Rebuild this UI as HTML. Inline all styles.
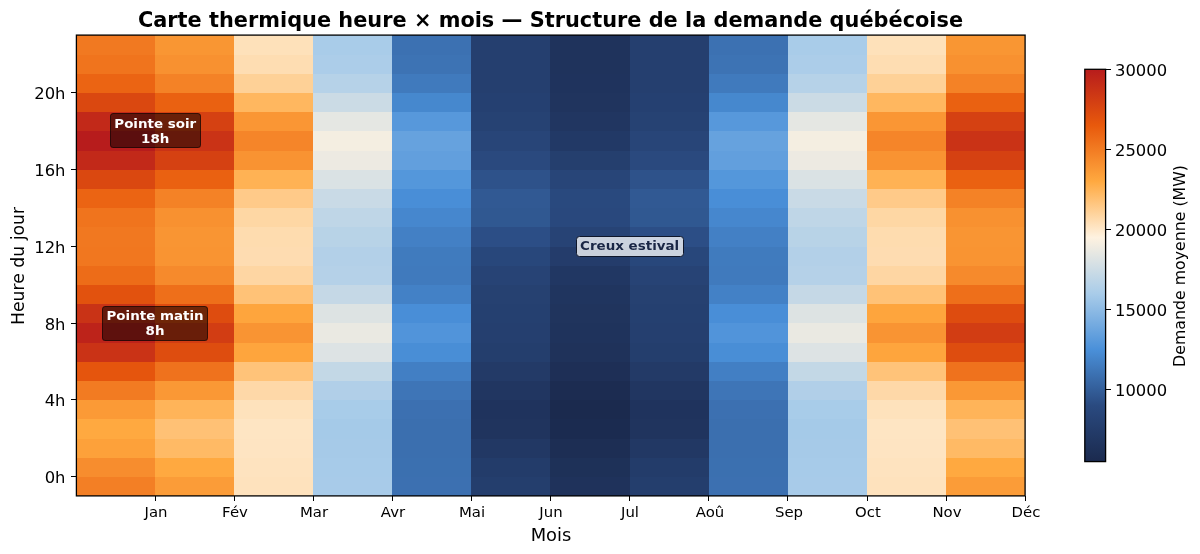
<!DOCTYPE html>
<html lang="fr"><head><meta charset="utf-8"><title>Carte thermique heure × mois</title>
<style>
html,body{margin:0;padding:0;background:#fff;}
body{width:1200px;height:554px;position:relative;overflow:hidden;font-family:"DejaVu Sans","Liberation Sans",sans-serif;color:#000;}
.abs{position:absolute}
#title{position:absolute;left:0;width:1101px;top:7.9px;text-align:center;font-weight:bold;font-size:20.6px;line-height:24px;white-space:nowrap;transform:scaleX(1.013);transform-origin:50% 50%}
svg{position:absolute;left:0;top:0}
.xt{position:absolute;top:502.8px;width:80px;margin-left:-40px;text-align:center;font-size:14.25px;line-height:18px;transform:scaleX(1.046);transform-origin:50% 50%}
.xtk{position:absolute;top:495.9px;width:1px;height:5px;background:#000}
.yt{position:absolute;left:0;width:65.5px;text-align:right;font-size:15.68px;line-height:18px;margin-top:-7.6px;transform:scaleX(1.046);transform-origin:100% 50%}
.ytk{position:absolute;left:71.4px;width:5px;height:1px;background:#000}
.ct{position:absolute;left:1115.1px;font-size:15.68px;line-height:18px;margin-top:-7.6px;transform:scaleX(1.046);transform-origin:0 50%}
.ctk{position:absolute;left:1105.6px;width:5px;height:1px;background:#000}
#xl{position:absolute;left:450.8px;width:200px;text-align:center;top:523.5px;font-size:17.1px;line-height:22px;transform:scaleX(1.046);transform-origin:50% 50%}
#yl{position:absolute;left:17.8px;top:266.0px;width:0;height:0}
#yl span{position:absolute;white-space:nowrap;font-size:17.88px;line-height:22px;transform:translate(-50%,-50%) rotate(-90deg) scaleX(0.965);display:block}
#cl{position:absolute;left:1180.2px;top:266.1px;width:0;height:0}
#cl span{position:absolute;white-space:nowrap;font-size:16.39px;line-height:20px;transform:translate(-50%,-50%) rotate(-90deg) scaleX(0.963);display:block}
.ann{position:absolute;box-sizing:border-box;text-align:center;font-weight:bold;font-size:12.83px;border-radius:3.5px;white-space:nowrap}
.ann span{display:block;position:absolute;left:0;right:0;line-height:15px;transform:scaleX(1.047);transform-origin:50% 50%}
.red{background:rgba(0,0,0,0.5);border:1.3px solid rgba(0,0,0,0.5);color:#fff;line-height:14.6px;padding-top:2.5px}
.blu{background:rgba(255,255,255,0.76);border:1.8px solid #0f172b;color:#1a2645;line-height:18.3px}
</style></head><body>
<div id="title">Carte thermique heure × mois — Structure de la demande québécoise</div>
<svg width="1200" height="554" viewBox="0 0 1200 554">
<defs><linearGradient id="cb" x1="0" y1="0" x2="0" y2="1"><stop offset="0.0000" stop-color="#b71c1c"/><stop offset="0.1429" stop-color="#e8590c"/><stop offset="0.2857" stop-color="#ffa940"/><stop offset="0.4286" stop-color="#fef2e0"/><stop offset="0.5714" stop-color="#a9cce9"/><stop offset="0.7143" stop-color="#4a90d9"/><stop offset="0.8571" stop-color="#2a4a80"/><stop offset="1.0000" stop-color="#1b2a4e"/></linearGradient></defs>
<g shape-rendering="crispEdges"><rect x="76.10" y="476.40" width="79.66" height="19.80" fill="#f37f25"/><rect x="76.10" y="457.20" width="79.66" height="19.80" fill="#f78d2e"/><rect x="76.10" y="438.00" width="79.66" height="19.80" fill="#fda13a"/><rect x="76.10" y="418.80" width="79.66" height="19.80" fill="#ffa940"/><rect x="76.10" y="399.60" width="79.66" height="19.80" fill="#fb9a36"/><rect x="76.10" y="380.40" width="79.66" height="19.80" fill="#f27b22"/><rect x="76.10" y="361.20" width="79.66" height="19.80" fill="#e5550d"/><rect x="76.10" y="342.00" width="79.66" height="19.80" fill="#ca3316"/><rect x="76.10" y="322.80" width="79.66" height="19.80" fill="#bd231a"/><rect x="76.10" y="303.60" width="79.66" height="19.80" fill="#c93316"/><rect x="76.10" y="284.40" width="79.66" height="19.80" fill="#e2520e"/><rect x="76.10" y="265.20" width="79.66" height="19.80" fill="#ed6c18"/><rect x="76.10" y="246.00" width="79.66" height="19.80" fill="#f1771f"/><rect x="76.10" y="226.80" width="79.66" height="19.80" fill="#f17820"/><rect x="76.10" y="207.60" width="79.66" height="19.80" fill="#f0741d"/><rect x="76.10" y="188.40" width="79.66" height="19.80" fill="#eb6413"/><rect x="76.10" y="169.20" width="79.66" height="19.80" fill="#da4810"/><rect x="76.10" y="150.00" width="79.66" height="19.80" fill="#c22919"/><rect x="76.10" y="130.80" width="79.66" height="19.80" fill="#b71c1c"/><rect x="76.10" y="111.60" width="79.66" height="19.80" fill="#c22919"/><rect x="76.10" y="92.40" width="79.66" height="19.80" fill="#da4810"/><rect x="76.10" y="73.20" width="79.66" height="19.80" fill="#eb6413"/><rect x="76.10" y="54.00" width="79.66" height="19.80" fill="#f0741d"/><rect x="76.10" y="34.80" width="79.66" height="19.80" fill="#f17921"/><rect x="155.16" y="476.40" width="79.66" height="19.80" fill="#fb9c38"/><rect x="155.16" y="457.20" width="79.66" height="19.80" fill="#ffa940"/><rect x="155.16" y="438.00" width="79.66" height="19.80" fill="#ffba65"/><rect x="155.16" y="418.80" width="79.66" height="19.80" fill="#ffc175"/><rect x="155.16" y="399.60" width="79.66" height="19.80" fill="#ffb459"/><rect x="155.16" y="380.40" width="79.66" height="19.80" fill="#fa9835"/><rect x="155.16" y="361.20" width="79.66" height="19.80" fill="#ef721d"/><rect x="155.16" y="342.00" width="79.66" height="19.80" fill="#de4d0f"/><rect x="155.16" y="322.80" width="79.66" height="19.80" fill="#d23d13"/><rect x="155.16" y="303.60" width="79.66" height="19.80" fill="#de4c0f"/><rect x="155.16" y="284.40" width="79.66" height="19.80" fill="#ee6f1a"/><rect x="155.16" y="265.20" width="79.66" height="19.80" fill="#f68a2c"/><rect x="155.16" y="246.00" width="79.66" height="19.80" fill="#f99432"/><rect x="155.16" y="226.80" width="79.66" height="19.80" fill="#f99533"/><rect x="155.16" y="207.60" width="79.66" height="19.80" fill="#f89130"/><rect x="155.16" y="188.40" width="79.66" height="19.80" fill="#f48226"/><rect x="155.16" y="169.20" width="79.66" height="19.80" fill="#ea6111"/><rect x="155.16" y="150.00" width="79.66" height="19.80" fill="#d54112"/><rect x="155.16" y="130.80" width="79.66" height="19.80" fill="#ca3316"/><rect x="155.16" y="111.60" width="79.66" height="19.80" fill="#d54112"/><rect x="155.16" y="92.40" width="79.66" height="19.80" fill="#ea6111"/><rect x="155.16" y="73.20" width="79.66" height="19.80" fill="#f48226"/><rect x="155.16" y="54.00" width="79.66" height="19.80" fill="#f89130"/><rect x="155.16" y="34.80" width="79.66" height="19.80" fill="#f99633"/><rect x="234.22" y="476.40" width="79.66" height="19.80" fill="#fee2bd"/><rect x="234.22" y="457.20" width="79.66" height="19.80" fill="#fee3bf"/><rect x="234.22" y="438.00" width="79.66" height="19.80" fill="#fee4c2"/><rect x="234.22" y="418.80" width="79.66" height="19.80" fill="#fee5c3"/><rect x="234.22" y="399.60" width="79.66" height="19.80" fill="#fee2bc"/><rect x="234.22" y="380.40" width="79.66" height="19.80" fill="#fed8a8"/><rect x="234.22" y="361.20" width="79.66" height="19.80" fill="#ffc379"/><rect x="234.22" y="342.00" width="79.66" height="19.80" fill="#fea53d"/><rect x="234.22" y="322.80" width="79.66" height="19.80" fill="#f99433"/><rect x="234.22" y="303.60" width="79.66" height="19.80" fill="#fea53d"/><rect x="234.22" y="284.40" width="79.66" height="19.80" fill="#ffc277"/><rect x="234.22" y="265.20" width="79.66" height="19.80" fill="#fed6a3"/><rect x="234.22" y="246.00" width="79.66" height="19.80" fill="#fedcb1"/><rect x="234.22" y="226.80" width="79.66" height="19.80" fill="#fedcaf"/><rect x="234.22" y="207.60" width="79.66" height="19.80" fill="#fed7a4"/><rect x="234.22" y="188.40" width="79.66" height="19.80" fill="#ffca89"/><rect x="234.22" y="169.20" width="79.66" height="19.80" fill="#ffb254"/><rect x="234.22" y="150.00" width="79.66" height="19.80" fill="#f99332"/><rect x="234.22" y="130.80" width="79.66" height="19.80" fill="#f58529"/><rect x="234.22" y="111.60" width="79.66" height="19.80" fill="#fa9634"/><rect x="234.22" y="92.40" width="79.66" height="19.80" fill="#ffb75f"/><rect x="234.22" y="73.20" width="79.66" height="19.80" fill="#fed197"/><rect x="234.22" y="54.00" width="79.66" height="19.80" fill="#feddb2"/><rect x="234.22" y="34.80" width="79.66" height="19.80" fill="#fee1ba"/><rect x="313.27" y="476.40" width="79.66" height="19.80" fill="#a8cbe9"/><rect x="313.27" y="457.20" width="79.66" height="19.80" fill="#a7cbe9"/><rect x="313.27" y="438.00" width="79.66" height="19.80" fill="#a6cae8"/><rect x="313.27" y="418.80" width="79.66" height="19.80" fill="#a5cae8"/><rect x="313.27" y="399.60" width="79.66" height="19.80" fill="#a8cce9"/><rect x="313.27" y="380.40" width="79.66" height="19.80" fill="#b1cfe8"/><rect x="313.27" y="361.20" width="79.66" height="19.80" fill="#c3d8e6"/><rect x="313.27" y="342.00" width="79.66" height="19.80" fill="#dde3e4"/><rect x="313.27" y="322.80" width="79.66" height="19.80" fill="#eae9e2"/><rect x="313.27" y="303.60" width="79.66" height="19.80" fill="#dde3e3"/><rect x="313.27" y="284.40" width="79.66" height="19.80" fill="#c5d8e6"/><rect x="313.27" y="265.20" width="79.66" height="19.80" fill="#b5d1e8"/><rect x="313.27" y="246.00" width="79.66" height="19.80" fill="#b3d0e8"/><rect x="313.27" y="226.80" width="79.66" height="19.80" fill="#b8d3e7"/><rect x="313.27" y="207.60" width="79.66" height="19.80" fill="#bfd6e7"/><rect x="313.27" y="188.40" width="79.66" height="19.80" fill="#c9dae6"/><rect x="313.27" y="169.20" width="79.66" height="19.80" fill="#dae2e4"/><rect x="313.27" y="150.00" width="79.66" height="19.80" fill="#edeae2"/><rect x="313.27" y="130.80" width="79.66" height="19.80" fill="#f4eee1"/><rect x="313.27" y="111.60" width="79.66" height="19.80" fill="#e5e7e3"/><rect x="313.27" y="92.40" width="79.66" height="19.80" fill="#cbdbe5"/><rect x="313.27" y="73.20" width="79.66" height="19.80" fill="#b6d2e8"/><rect x="313.27" y="54.00" width="79.66" height="19.80" fill="#accde9"/><rect x="313.27" y="34.80" width="79.66" height="19.80" fill="#a9cce9"/><rect x="392.33" y="476.40" width="79.66" height="19.80" fill="#3c70b1"/><rect x="392.33" y="457.20" width="79.66" height="19.80" fill="#3b70b0"/><rect x="392.33" y="438.00" width="79.66" height="19.80" fill="#3b6faf"/><rect x="392.33" y="418.80" width="79.66" height="19.80" fill="#3b6faf"/><rect x="392.33" y="399.60" width="79.66" height="19.80" fill="#3c70b1"/><rect x="392.33" y="380.40" width="79.66" height="19.80" fill="#3e75b7"/><rect x="392.33" y="361.20" width="79.66" height="19.80" fill="#427fc4"/><rect x="392.33" y="342.00" width="79.66" height="19.80" fill="#498ed6"/><rect x="392.33" y="322.80" width="79.66" height="19.80" fill="#5194da"/><rect x="392.33" y="303.60" width="79.66" height="19.80" fill="#498ed7"/><rect x="392.33" y="284.40" width="79.66" height="19.80" fill="#4381c6"/><rect x="392.33" y="265.20" width="79.66" height="19.80" fill="#407abd"/><rect x="392.33" y="246.00" width="79.66" height="19.80" fill="#407bbe"/><rect x="392.33" y="226.80" width="79.66" height="19.80" fill="#4380c5"/><rect x="392.33" y="207.60" width="79.66" height="19.80" fill="#4687ce"/><rect x="392.33" y="188.40" width="79.66" height="19.80" fill="#498ed7"/><rect x="392.33" y="169.20" width="79.66" height="19.80" fill="#5497db"/><rect x="392.33" y="150.00" width="79.66" height="19.80" fill="#629fdd"/><rect x="392.33" y="130.80" width="79.66" height="19.80" fill="#66a2de"/><rect x="392.33" y="111.60" width="79.66" height="19.80" fill="#5798db"/><rect x="392.33" y="92.40" width="79.66" height="19.80" fill="#4688ce"/><rect x="392.33" y="73.20" width="79.66" height="19.80" fill="#407abd"/><rect x="392.33" y="54.00" width="79.66" height="19.80" fill="#3d73b4"/><rect x="392.33" y="34.80" width="79.66" height="19.80" fill="#3c71b2"/><rect x="471.39" y="476.40" width="79.66" height="19.80" fill="#243e6d"/><rect x="471.39" y="457.20" width="79.66" height="19.80" fill="#233c6a"/><rect x="471.39" y="438.00" width="79.66" height="19.80" fill="#223864"/><rect x="471.39" y="418.80" width="79.66" height="19.80" fill="#20345e"/><rect x="471.39" y="399.60" width="79.66" height="19.80" fill="#1f335d"/><rect x="471.39" y="380.40" width="79.66" height="19.80" fill="#213661"/><rect x="471.39" y="361.20" width="79.66" height="19.80" fill="#233a67"/><rect x="471.39" y="342.00" width="79.66" height="19.80" fill="#243e6d"/><rect x="471.39" y="322.80" width="79.66" height="19.80" fill="#253f6f"/><rect x="471.39" y="303.60" width="79.66" height="19.80" fill="#254070"/><rect x="471.39" y="284.40" width="79.66" height="19.80" fill="#264171"/><rect x="471.39" y="265.20" width="79.66" height="19.80" fill="#274375"/><rect x="471.39" y="246.00" width="79.66" height="19.80" fill="#28477b"/><rect x="471.39" y="226.80" width="79.66" height="19.80" fill="#2c4e86"/><rect x="471.39" y="207.60" width="79.66" height="19.80" fill="#305891"/><rect x="471.39" y="188.40" width="79.66" height="19.80" fill="#315993"/><rect x="471.39" y="169.20" width="79.66" height="19.80" fill="#2e528a"/><rect x="471.39" y="150.00" width="79.66" height="19.80" fill="#2a497e"/><rect x="471.39" y="130.80" width="79.66" height="19.80" fill="#284578"/><rect x="471.39" y="111.60" width="79.66" height="19.80" fill="#264273"/><rect x="471.39" y="92.40" width="79.66" height="19.80" fill="#254071"/><rect x="471.39" y="73.20" width="79.66" height="19.80" fill="#253f6f"/><rect x="471.39" y="54.00" width="79.66" height="19.80" fill="#253f6f"/><rect x="471.39" y="34.80" width="79.66" height="19.80" fill="#253f6f"/><rect x="550.45" y="476.40" width="79.66" height="19.80" fill="#1f325b"/><rect x="550.45" y="457.20" width="79.66" height="19.80" fill="#1e3158"/><rect x="550.45" y="438.00" width="79.66" height="19.80" fill="#1d2e54"/><rect x="550.45" y="418.80" width="79.66" height="19.80" fill="#1b2b50"/><rect x="550.45" y="399.60" width="79.66" height="19.80" fill="#1b2a4e"/><rect x="550.45" y="380.40" width="79.66" height="19.80" fill="#1c2c51"/><rect x="550.45" y="361.20" width="79.66" height="19.80" fill="#1e2f56"/><rect x="550.45" y="342.00" width="79.66" height="19.80" fill="#1f325a"/><rect x="550.45" y="322.80" width="79.66" height="19.80" fill="#1f335c"/><rect x="550.45" y="303.60" width="79.66" height="19.80" fill="#20345d"/><rect x="550.45" y="284.40" width="79.66" height="19.80" fill="#20355f"/><rect x="550.45" y="265.20" width="79.66" height="19.80" fill="#213763"/><rect x="550.45" y="246.00" width="79.66" height="19.80" fill="#243c6b"/><rect x="550.45" y="226.80" width="79.66" height="19.80" fill="#274375"/><rect x="550.45" y="207.60" width="79.66" height="19.80" fill="#29487d"/><rect x="550.45" y="188.40" width="79.66" height="19.80" fill="#29497e"/><rect x="550.45" y="169.20" width="79.66" height="19.80" fill="#284578"/><rect x="550.45" y="150.00" width="79.66" height="19.80" fill="#253f6e"/><rect x="550.45" y="130.80" width="79.66" height="19.80" fill="#223966"/><rect x="550.45" y="111.60" width="79.66" height="19.80" fill="#213661"/><rect x="550.45" y="92.40" width="79.66" height="19.80" fill="#20345e"/><rect x="550.45" y="73.20" width="79.66" height="19.80" fill="#1f335d"/><rect x="550.45" y="54.00" width="79.66" height="19.80" fill="#1f335c"/><rect x="550.45" y="34.80" width="79.66" height="19.80" fill="#1f335c"/><rect x="629.51" y="476.40" width="79.66" height="19.80" fill="#243e6d"/><rect x="629.51" y="457.20" width="79.66" height="19.80" fill="#233c6a"/><rect x="629.51" y="438.00" width="79.66" height="19.80" fill="#223864"/><rect x="629.51" y="418.80" width="79.66" height="19.80" fill="#20345e"/><rect x="629.51" y="399.60" width="79.66" height="19.80" fill="#1f335d"/><rect x="629.51" y="380.40" width="79.66" height="19.80" fill="#213661"/><rect x="629.51" y="361.20" width="79.66" height="19.80" fill="#233a67"/><rect x="629.51" y="342.00" width="79.66" height="19.80" fill="#243e6d"/><rect x="629.51" y="322.80" width="79.66" height="19.80" fill="#253f6f"/><rect x="629.51" y="303.60" width="79.66" height="19.80" fill="#254070"/><rect x="629.51" y="284.40" width="79.66" height="19.80" fill="#264171"/><rect x="629.51" y="265.20" width="79.66" height="19.80" fill="#274375"/><rect x="629.51" y="246.00" width="79.66" height="19.80" fill="#28477b"/><rect x="629.51" y="226.80" width="79.66" height="19.80" fill="#2c4e86"/><rect x="629.51" y="207.60" width="79.66" height="19.80" fill="#305891"/><rect x="629.51" y="188.40" width="79.66" height="19.80" fill="#315993"/><rect x="629.51" y="169.20" width="79.66" height="19.80" fill="#2e528a"/><rect x="629.51" y="150.00" width="79.66" height="19.80" fill="#2a497e"/><rect x="629.51" y="130.80" width="79.66" height="19.80" fill="#284578"/><rect x="629.51" y="111.60" width="79.66" height="19.80" fill="#264273"/><rect x="629.51" y="92.40" width="79.66" height="19.80" fill="#254071"/><rect x="629.51" y="73.20" width="79.66" height="19.80" fill="#253f6f"/><rect x="629.51" y="54.00" width="79.66" height="19.80" fill="#253f6f"/><rect x="629.51" y="34.80" width="79.66" height="19.80" fill="#253f6f"/><rect x="708.57" y="476.40" width="79.66" height="19.80" fill="#3c70b1"/><rect x="708.57" y="457.20" width="79.66" height="19.80" fill="#3b70b0"/><rect x="708.57" y="438.00" width="79.66" height="19.80" fill="#3b6faf"/><rect x="708.57" y="418.80" width="79.66" height="19.80" fill="#3b6faf"/><rect x="708.57" y="399.60" width="79.66" height="19.80" fill="#3c70b1"/><rect x="708.57" y="380.40" width="79.66" height="19.80" fill="#3e75b7"/><rect x="708.57" y="361.20" width="79.66" height="19.80" fill="#427fc4"/><rect x="708.57" y="342.00" width="79.66" height="19.80" fill="#498ed6"/><rect x="708.57" y="322.80" width="79.66" height="19.80" fill="#5194da"/><rect x="708.57" y="303.60" width="79.66" height="19.80" fill="#498ed7"/><rect x="708.57" y="284.40" width="79.66" height="19.80" fill="#4381c6"/><rect x="708.57" y="265.20" width="79.66" height="19.80" fill="#407abd"/><rect x="708.57" y="246.00" width="79.66" height="19.80" fill="#407bbe"/><rect x="708.57" y="226.80" width="79.66" height="19.80" fill="#4380c5"/><rect x="708.57" y="207.60" width="79.66" height="19.80" fill="#4687ce"/><rect x="708.57" y="188.40" width="79.66" height="19.80" fill="#498ed7"/><rect x="708.57" y="169.20" width="79.66" height="19.80" fill="#5497db"/><rect x="708.57" y="150.00" width="79.66" height="19.80" fill="#629fdd"/><rect x="708.57" y="130.80" width="79.66" height="19.80" fill="#66a2de"/><rect x="708.57" y="111.60" width="79.66" height="19.80" fill="#5798db"/><rect x="708.57" y="92.40" width="79.66" height="19.80" fill="#4688ce"/><rect x="708.57" y="73.20" width="79.66" height="19.80" fill="#407abd"/><rect x="708.57" y="54.00" width="79.66" height="19.80" fill="#3d73b4"/><rect x="708.57" y="34.80" width="79.66" height="19.80" fill="#3c71b2"/><rect x="787.62" y="476.40" width="79.66" height="19.80" fill="#a8cbe9"/><rect x="787.62" y="457.20" width="79.66" height="19.80" fill="#a7cbe9"/><rect x="787.62" y="438.00" width="79.66" height="19.80" fill="#a6cae8"/><rect x="787.62" y="418.80" width="79.66" height="19.80" fill="#a5cae8"/><rect x="787.62" y="399.60" width="79.66" height="19.80" fill="#a8cce9"/><rect x="787.62" y="380.40" width="79.66" height="19.80" fill="#b1cfe8"/><rect x="787.62" y="361.20" width="79.66" height="19.80" fill="#c3d8e6"/><rect x="787.62" y="342.00" width="79.66" height="19.80" fill="#dde3e4"/><rect x="787.62" y="322.80" width="79.66" height="19.80" fill="#eae9e2"/><rect x="787.62" y="303.60" width="79.66" height="19.80" fill="#dde3e3"/><rect x="787.62" y="284.40" width="79.66" height="19.80" fill="#c5d8e6"/><rect x="787.62" y="265.20" width="79.66" height="19.80" fill="#b5d1e8"/><rect x="787.62" y="246.00" width="79.66" height="19.80" fill="#b3d0e8"/><rect x="787.62" y="226.80" width="79.66" height="19.80" fill="#b8d3e7"/><rect x="787.62" y="207.60" width="79.66" height="19.80" fill="#bfd6e7"/><rect x="787.62" y="188.40" width="79.66" height="19.80" fill="#c9dae6"/><rect x="787.62" y="169.20" width="79.66" height="19.80" fill="#dae2e4"/><rect x="787.62" y="150.00" width="79.66" height="19.80" fill="#edeae2"/><rect x="787.62" y="130.80" width="79.66" height="19.80" fill="#f4eee1"/><rect x="787.62" y="111.60" width="79.66" height="19.80" fill="#e5e7e3"/><rect x="787.62" y="92.40" width="79.66" height="19.80" fill="#cbdbe5"/><rect x="787.62" y="73.20" width="79.66" height="19.80" fill="#b6d2e8"/><rect x="787.62" y="54.00" width="79.66" height="19.80" fill="#accde9"/><rect x="787.62" y="34.80" width="79.66" height="19.80" fill="#a9cce9"/><rect x="866.68" y="476.40" width="79.66" height="19.80" fill="#fee2bd"/><rect x="866.68" y="457.20" width="79.66" height="19.80" fill="#fee3bf"/><rect x="866.68" y="438.00" width="79.66" height="19.80" fill="#fee4c2"/><rect x="866.68" y="418.80" width="79.66" height="19.80" fill="#fee5c3"/><rect x="866.68" y="399.60" width="79.66" height="19.80" fill="#fee2bc"/><rect x="866.68" y="380.40" width="79.66" height="19.80" fill="#fed8a8"/><rect x="866.68" y="361.20" width="79.66" height="19.80" fill="#ffc379"/><rect x="866.68" y="342.00" width="79.66" height="19.80" fill="#fea53d"/><rect x="866.68" y="322.80" width="79.66" height="19.80" fill="#f99433"/><rect x="866.68" y="303.60" width="79.66" height="19.80" fill="#fea53d"/><rect x="866.68" y="284.40" width="79.66" height="19.80" fill="#ffc277"/><rect x="866.68" y="265.20" width="79.66" height="19.80" fill="#fed6a3"/><rect x="866.68" y="246.00" width="79.66" height="19.80" fill="#fedcb1"/><rect x="866.68" y="226.80" width="79.66" height="19.80" fill="#fedcaf"/><rect x="866.68" y="207.60" width="79.66" height="19.80" fill="#fed7a4"/><rect x="866.68" y="188.40" width="79.66" height="19.80" fill="#ffca89"/><rect x="866.68" y="169.20" width="79.66" height="19.80" fill="#ffb254"/><rect x="866.68" y="150.00" width="79.66" height="19.80" fill="#f99332"/><rect x="866.68" y="130.80" width="79.66" height="19.80" fill="#f58529"/><rect x="866.68" y="111.60" width="79.66" height="19.80" fill="#fa9634"/><rect x="866.68" y="92.40" width="79.66" height="19.80" fill="#ffb75f"/><rect x="866.68" y="73.20" width="79.66" height="19.80" fill="#fed197"/><rect x="866.68" y="54.00" width="79.66" height="19.80" fill="#feddb2"/><rect x="866.68" y="34.80" width="79.66" height="19.80" fill="#fee1ba"/><rect x="945.74" y="476.40" width="79.66" height="19.80" fill="#fb9c38"/><rect x="945.74" y="457.20" width="79.66" height="19.80" fill="#ffa940"/><rect x="945.74" y="438.00" width="79.66" height="19.80" fill="#ffba65"/><rect x="945.74" y="418.80" width="79.66" height="19.80" fill="#ffc175"/><rect x="945.74" y="399.60" width="79.66" height="19.80" fill="#ffb459"/><rect x="945.74" y="380.40" width="79.66" height="19.80" fill="#fa9835"/><rect x="945.74" y="361.20" width="79.66" height="19.80" fill="#ef721d"/><rect x="945.74" y="342.00" width="79.66" height="19.80" fill="#de4d0f"/><rect x="945.74" y="322.80" width="79.66" height="19.80" fill="#d23d13"/><rect x="945.74" y="303.60" width="79.66" height="19.80" fill="#de4c0f"/><rect x="945.74" y="284.40" width="79.66" height="19.80" fill="#ee6f1a"/><rect x="945.74" y="265.20" width="79.66" height="19.80" fill="#f68a2c"/><rect x="945.74" y="246.00" width="79.66" height="19.80" fill="#f99432"/><rect x="945.74" y="226.80" width="79.66" height="19.80" fill="#f99533"/><rect x="945.74" y="207.60" width="79.66" height="19.80" fill="#f89130"/><rect x="945.74" y="188.40" width="79.66" height="19.80" fill="#f48226"/><rect x="945.74" y="169.20" width="79.66" height="19.80" fill="#ea6111"/><rect x="945.74" y="150.00" width="79.66" height="19.80" fill="#d54112"/><rect x="945.74" y="130.80" width="79.66" height="19.80" fill="#ca3316"/><rect x="945.74" y="111.60" width="79.66" height="19.80" fill="#d54112"/><rect x="945.74" y="92.40" width="79.66" height="19.80" fill="#ea6111"/><rect x="945.74" y="73.20" width="79.66" height="19.80" fill="#f48226"/><rect x="945.74" y="54.00" width="79.66" height="19.80" fill="#f89130"/><rect x="945.74" y="34.80" width="79.66" height="19.80" fill="#f99633"/></g>
<rect x="76.4" y="35.1" width="948.7" height="460.8" fill="none" stroke="#000" stroke-width="1.3"/>
<rect x="1084.8" y="69.3" width="20.8" height="392.3" fill="url(#cb)" stroke="#000" stroke-width="1.3"/>
</svg>
<div class="xt" style="left:156.1px">Jan</div><div class="xtk" style="left:155.0px"></div><div class="xt" style="left:235.1px">Fév</div><div class="xtk" style="left:234.0px"></div><div class="xt" style="left:314.2px">Mar</div><div class="xtk" style="left:313.1px"></div><div class="xt" style="left:393.2px">Avr</div><div class="xtk" style="left:392.1px"></div><div class="xt" style="left:472.3px">Mai</div><div class="xtk" style="left:471.2px"></div><div class="xt" style="left:551.3px">Jun</div><div class="xtk" style="left:550.2px"></div><div class="xt" style="left:630.4px">Jul</div><div class="xtk" style="left:629.3px"></div><div class="xt" style="left:709.5px">Aoû</div><div class="xtk" style="left:708.4px"></div><div class="xt" style="left:788.5px">Sep</div><div class="xtk" style="left:787.4px"></div><div class="xt" style="left:867.6px">Oct</div><div class="xtk" style="left:866.5px"></div><div class="xt" style="left:946.6px">Nov</div><div class="xtk" style="left:945.5px"></div><div class="xt" style="left:1025.7px">Déc</div><div class="xtk" style="left:1024.6px"></div><div class="yt" style="top:476.7px">0h</div><div class="ytk" style="top:476.2px"></div><div class="yt" style="top:399.9px">4h</div><div class="ytk" style="top:399.4px"></div><div class="yt" style="top:323.1px">8h</div><div class="ytk" style="top:322.6px"></div><div class="yt" style="top:246.3px">12h</div><div class="ytk" style="top:245.8px"></div><div class="yt" style="top:169.5px">16h</div><div class="ytk" style="top:169.0px"></div><div class="yt" style="top:92.7px">20h</div><div class="ytk" style="top:92.2px"></div><div class="ct" style="top:389.9px">10000</div><div class="ctk" style="top:389.4px"></div><div class="ct" style="top:309.8px">15000</div><div class="ctk" style="top:309.3px"></div><div class="ct" style="top:229.6px">20000</div><div class="ctk" style="top:229.1px"></div><div class="ct" style="top:149.5px">25000</div><div class="ctk" style="top:149.0px"></div><div class="ct" style="top:69.3px">30000</div><div class="ctk" style="top:68.8px"></div>
<div id="xl">Mois</div>
<div id="yl"><span>Heure du jour</span></div>
<div id="cl"><span>Demande moyenne (MW)</span></div>
<div class="ann red" style="left:110.1px;top:113.4px;width:90.5px;height:35px"><span style="top:1.9px">Pointe soir</span><span style="top:16.5px">18h</span></div>
<div class="ann red" style="left:102.3px;top:305.6px;width:106.1px;height:35px"><span style="top:1.1px">Pointe matin</span><span style="top:16.3px">8h</span></div>
<div class="ann blu" style="left:575.6px;top:235.5px;width:108.3px;height:21.4px"><span style="top:1.9px;left:-1px">Creux estival</span></div>
</body></html>
